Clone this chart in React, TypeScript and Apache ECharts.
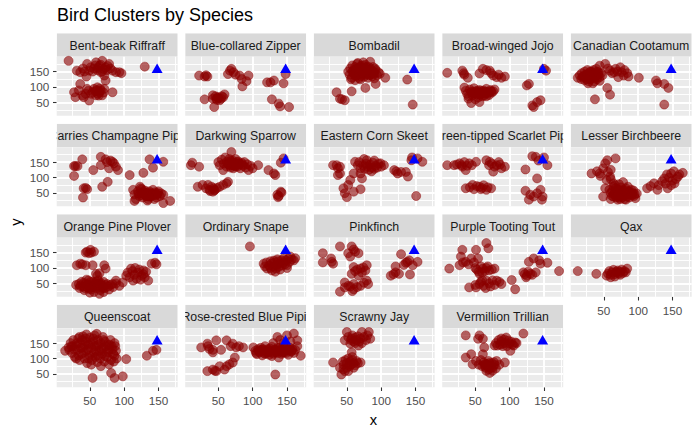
import React, { useEffect, useRef } from "react";
import * as echarts from "echarts";

const FONT = "'Liberation Sans', Arial, sans-serif";

const speciesNames = [
  "Bent-beak Riffraff", "Blue-collared Zipper", "Bombadil", "Broad-winged Jojo", "Canadian Cootamum",
  "Carries Champagne Pipit", "Darkwing Sparrow", "Eastern Corn Skeet", "Green-tipped Scarlet Pipit", "Lesser Birchbeere",
  "Orange Pine Plover", "Ordinary Snape", "Pinkfinch", "Purple Tooting Tout", "Qax",
  "Queenscoat", "Rose-crested Blue Pipit", "Scrawny Jay", "Vermillion Trillian",
];

const bentBeakRiffraff = [
  [19,185],[31,153],[36,148],[46,175],[49,153],[45,134],[51,164],[59,180],[64,169],[68,185],[73,164],[78,175],[66,148],[71,137],[73,121],[83,153],[88,148],[93,148],[96,145],[56,160],[61,155],[66,172],[70,158],[75,155],[62,162],[68,150],[58,170],[76,168],[80,160],[54,150],[42,150],[40,160],
  [27,83],[34,89],[36,110],[39,73],[44,78],[46,94],[49,56],[54,83],[56,94],[59,73],[61,99],[64,83],[66,89],[68,73],[71,94],[83,83],[29,67],[41,67],[58,86],[62,78],[65,95],[60,90],[52,78],[48,88],[70,82],[63,72],
  [130,166],
];
const blueCollaredZipper = [
  [22,137],[30,134],[34,134],[32,138],[67,153],[64,142],[69,159],[81,137],[84,126],[94,137],[91,119],[85,102],[72,148],[75,140],
  [30,60],[42,73],[47,62],[52,57],[44,35],[59,76],[57,67],[49,67],[42,62],[46,70],[50,64],[54,62],[48,58],[55,70],
  [121,115],[126,115],[131,121],[145,112],[148,142],[128,60],[138,46],[140,37],[153,35],
];
const bombadil = [
  [52,150],[54,140],[55,160],[57,130],[58,170],[60,145],[60,155],[62,165],[63,135],[64,150],[65,175],[66,142],[67,160],[68,128],[69,150],[70,168],[71,140],[72,155],[73,145],[74,162],[75,133],[76,150],[77,172],[78,140],[79,158],[80,148],[81,130],[82,165],[83,152],[84,140],[85,158],[86,145],[87,135],[88,165],[89,150],[90,142],[92,155],[94,138],[96,148],[98,143],[56,125],[62,122],[70,125],[66,178],[74,180],[84,182],[90,128],
  [58,150],[61,140],[64,158],[67,148],[70,135],[73,170],[76,158],[79,145],[82,138],[85,150],[88,145],[91,160],[68,162],[78,165],[72,148],[80,155],
  [106,130],[92,110],[77,97],[57,86],[35,83],[40,62],[47,57],[43,60],[138,124],[146,43],
];
const broadWingedJojo = [
  [9,146],[31,153],[34,140],[39,130],[33,145],[56,144],[61,159],[66,155],[71,153],[76,137],[81,132],[88,130],[93,134],[73,145],[84,140],
  [34,98],[36,88],[38,78],[40,70],[42,92],[44,82],[46,72],[48,96],[50,86],[52,76],[54,66],[56,90],[58,80],[60,70],[62,88],[64,78],[66,94],[68,84],[70,74],[72,90],[74,82],[76,86],[78,92],[44,48],[56,51],[40,62],[50,60],[66,70],
  [45,85],[49,80],[53,88],[57,75],[61,80],[65,85],[69,80],[73,86],[47,78],[59,88],[63,72],[55,82],
  [128,110],[125,105],[133,40],[140,51],[145,57],[135,35],[153,153],[150,159],
];
const canadianCootamum = [
  [12,130],[15,138],[17,126],[18,145],[20,135],[22,150],[22,122],[24,140],[25,130],[26,155],[28,118],[28,145],[30,135],[31,125],[32,150],[33,140],[34,130],[35,155],[36,118],[37,145],[38,135],[40,125],[40,150],[42,140],[44,132],[46,145],[48,138],[27,112],[34,112],[44,120],
  [19,132],[23,135],[26,140],[29,128],[31,145],[35,138],[39,130],[42,148],[30,150],[25,125],
  [44,169],[52,175],[59,153],[67,159],[74,164],[76,148],[79,137],[86,134],[71,132],[65,148],[101,130],[55,97],[59,75],[37,60],[126,121],[128,112],[138,110],[144,97],[138,43],[39,159],[56,160],[62,145],[70,150],[80,155],[84,145],
];
const carriesChampagnePipit = [
  [27,137],[32,137],[29,137],[27,105],[39,159],[41,65],[46,62],[44,66],[40,35],[55,124],[66,167],[66,140],[73,159],[78,130],[83,151],[88,135],[91,124],[85,146],[80,155],[75,150],[68,70],[76,86],[108,108],[128,115],[142,132],[137,159],[157,151],
  [113,60],[115,45],[117,30],[120,55],[122,40],[124,65],[125,50],[127,35],[129,45],[130,58],[132,40],[133,50],[135,30],[136,45],[137,55],[139,38],[140,48],[142,60],[143,42],[145,52],[147,35],[148,46],[150,55],[152,40],[154,48],[157,44],[134,25],[126,62],[144,30],
  [121,48],[126,42],[131,52],[134,40],[138,50],[141,45],[146,42],[149,50],[128,52],[136,38],
  [167,24],[157,17],[115,24],[123,70],
];
const darkwingSparrow = [
  [10,140],[12,148],[22,135],
  [50,150],[52,140],[55,158],[57,124],[58,145],[60,165],[62,135],[63,152],[65,142],[66,160],[68,132],[69,150],[70,140],[71,155],[72,130],[73,147],[74,138],[75,160],[76,145],[78,135],[79,152],[80,142],[82,130],[84,148],[86,138],[88,150],[90,132],[92,143],[94,124],[97,138],[100,130],[69,183],
  [64,145],[67,138],[70,148],[73,140],[77,150],[81,145],[85,142],[68,155],[75,135],
  [108,140],[123,124],[131,113],[133,108],[141,148],[145,162],
  [20,70],[27,76],[32,65],[37,60],[42,54],[40,70],[52,70],[57,76],[62,81],[64,86],[43,65],[35,76],[45,60],[48,66],[38,56],[44,58],
  [136,44],[141,54],[142,51],[137,36],[138,40],
];
const easternCornSkeet = [
  [30,140],[35,140],[40,135],[37,130],[40,113],[37,108],
  [62,151],[79,156],[99,146],[60,113],[70,113],[72,97],[70,130],[74,140],[76,128],[78,145],[80,135],[82,125],[84,142],[86,132],[88,148],[90,128],[92,138],[94,132],[96,145],[100,135],[66,140],[68,150],[86,120],[104,140],[75,160],[90,155],
  [55,92],[52,76],[45,65],[47,49],[50,36],[60,54],[70,62],
  [119,124],[124,113],[129,118],[136,118],[139,103],[144,156],[153,162],[160,151],[151,40],[145,165],[122,120],
];
const greenTippedScarletPipit = [
  [9,140],[27,146],[31,135],[41,146],[51,151],[19,140],[36,124],[23,142],[34,150],[45,140],[30,140],[38,138],
  [71,151],[81,140],[88,130],[76,119],[66,156],[93,135],[74,145],[84,150],[78,135],[70,140],[86,142],
  [56,70],[36,65],[46,76],[66,60],[73,65],[52,72],[60,66],[62,75],[48,62],[42,68],[58,62],[68,68],
  [138,167],[133,169],[155,140],[123,126],[140,97],[123,57],[130,44],[128,28],[140,49],[147,28],[145,60],[135,38],[142,155],[150,165],[148,38],
];
const lesserBirchbeere = [
  [32,113],[44,113],[52,146],[55,156],[67,162],[49,130],[59,103],[64,81],[52,65],[49,38],[40,120],[56,118],[60,125],[45,105],[54,92],[60,95],
  [58,60],[60,50],[62,40],[64,70],[66,55],[68,45],[70,62],[72,35],[74,52],[75,68],[76,42],[78,58],[80,48],[82,65],[84,38],[86,55],[88,45],[90,60],[92,50],[94,40],[96,33],[98,48],[70,28],[80,30],[66,75],[85,70],[60,30],[72,78],[78,85],
  [62,55],[65,45],[67,65],[69,50],[71,40],[73,58],[75,48],[77,36],[79,52],[81,42],[83,58],[85,48],[87,35],[89,52],[91,42],[93,58],[95,46],[74,30],[82,28],[64,38],[68,35],
  [113,65],[123,81],[138,97],[148,113],[158,103],[165,115],[143,65],[153,81],[130,75],[135,88],[140,80],[145,100],[150,90],[155,95],[160,110],[142,110],[152,120],[118,72],[128,60],[148,75],
];
const orangePinePlover = [
  [46,153],[51,159],[49,148],[56,153],[44,150],[52,150],
  [31,109],[36,114],[44,109],[54,109],[71,109],[73,98],[64,83],[61,75],[59,81],[39,112],
  [30,45],[34,48],[35,35],[38,55],[40,40],[42,28],[44,50],[46,38],[48,60],[50,45],[52,30],[54,55],[55,40],[56,22],[58,50],[60,35],[62,60],[63,45],[65,28],[66,52],[68,40],[70,55],[72,35],[75,48],[78,30],[80,45],[84,38],[88,50],[64,16],[50,20],[45,62],[70,22],
  [36,42],[41,52],[47,45],[51,55],[53,38],[57,45],[59,55],[61,42],[64,50],[67,45],[69,35],[73,45],[77,40],[43,35],[49,33],
  [88,59],[93,42],[98,53],[83,48],
  [103,75],[110,98],[128,92],[135,59],[113,59],[105,85],[108,70],[112,90],[115,78],[118,65],[120,85],[122,95],[125,75],[128,80],[130,70],[132,88],[116,100],[124,62],
  [140,114],[145,117],[147,112],
];
const ordinarySnape = [
  [96,170],
  [116,114],[118,105],[121,98],[124,108],[126,100],[128,92],[128,115],[130,105],[132,118],[134,98],[135,110],[137,122],[138,104],[140,115],[142,125],[143,108],[145,118],[145,131],[147,112],[148,125],[150,109],[152,130],[154,120],[155,137],[157,128],[160,125],[120,118],[126,122],[133,88],[140,95],[150,100],[162,132],[136,128],[131,124],
];
const pinkfinch = [
  [15,148],[15,118],[27,131],[30,114],[40,170],[52,148],[57,170],[62,153],[67,148],[55,137],[60,160],[28,120],
  [60,103],[70,98],[77,92],[57,81],[67,75],[79,109],[65,95],[72,85],[62,90],[74,102],
  [40,23],[47,37],[52,42],[60,48],[70,42],[79,59],[81,48],[47,53],[60,31],[55,40],[65,38],[75,52],[58,25],
  [114,75],[121,86],[126,81],[121,105],[129,145],[136,117],[141,125],[146,109],[153,120],[142,79],[118,80],[133,110],[138,120],
];
const purpleTootingTout = [
  [12,98],[31,159],[29,137],[27,109],[36,120],[44,131],[51,159],[54,131],[66,181],[69,164],[40,112],[48,118],[32,118],
  [61,98],[56,81],[78,98],[52,95],[58,105],[64,90],[66,100],[70,92],[55,88],[60,85],[68,105],[74,95],[50,100],
  [56,48],[66,59],[81,59],[88,48],[103,61],[108,31],[41,37],[51,37],[58,55],[62,42],[70,50],[75,60],[78,45],[85,55],[50,45],[60,60],[65,35],[72,40],
  [120,86],[125,75],[130,81],[138,86],[128,120],[135,131],[143,125],[145,114],[155,117],[172,90],[122,80],[127,88],[133,78],[124,70],
];
const qax = [
  [12,90],[39,81],[54,75],[84,98],[69,86],[56,82],[58,90],[60,78],[62,86],[64,94],[66,80],[68,88],[70,92],[72,82],[74,88],[76,95],[78,84],[80,90],[82,86],[60,70],[66,72],[74,78],
];
const queenscoat = [
  [14,125],[19,136],[22,150],[24,118],[26,160],[28,105],[30,140],[32,128],[33,165],[35,95],[36,150],[38,115],[40,172],[40,135],[42,100],[44,155],[45,125],[46,85],[48,145],[49,110],[50,168],[52,135],[53,95],[55,155],[56,120],[57,175],[58,105],[60,140],[61,88],[62,160],[64,125],[65,100],[66,150],[68,115],[69,170],[70,135],[71,90],[72,155],[74,120],[75,105],[76,145],[78,130],[80,160],[81,95],[82,140],[84,115],[86,150],[88,125],[66,75],[52,80],[30,100],[25,140],[45,178],[60,180],
  [20,128],[23,140],[27,130],[31,150],[34,110],[37,135],[39,160],[41,120],[43,145],[47,130],[51,150],[54,110],[57,140],[59,125],[63,145],[67,130],[70,160],[73,140],[77,120],[79,145],[83,130],[87,140],[35,170],[55,165],[48,100],[62,110],[72,108],[44,165],
  [54,37],[81,53],[86,37],[98,42],[103,98],[86,109],[78,81],[133,109],[142,125],[147,128],[89,100],[85,90],
];
const roseCrestedBluePipit = [
  [25,136],[34,148],[37,131],[42,120],[47,159],[42,128],[62,159],[54,128],[71,148],[76,136],[86,136],[74,103],[71,87],[66,81],[52,75],[62,75],[34,59],[42,64],[47,59],[59,64],[80,140],[68,140],[35,140],[45,60],
  [101,136],[106,114],[104,125],[108,130],[110,120],[112,135],[114,110],[116,125],[118,140],[120,118],[122,130],[124,112],[126,125],[128,138],[130,115],[132,128],[134,120],[136,135],[138,103],[140,125],[142,115],[144,132],[146,120],[148,140],[150,125],[152,112],[154,135],[156,122],[158,130],[160,118],[162,128],[165,140],[170,109],[136,170],[150,175],[160,181],[165,159],[140,160],[145,150],[155,155],[130,150],[133,48],[118,115],[128,108],
  [105,118],[109,124],[113,128],[117,118],[121,124],[125,132],[129,120],[133,125],[137,118],[141,130],[145,125],[149,118],[153,128],[157,125],[123,120],[139,135],[147,132],[135,128],[115,130],[143,120],
];
const scrawnyJay = [
  [50,186],[72,186],[82,186],[47,159],[84,164],[67,142],[55,148],[52,170],[56,160],[58,175],[60,155],[62,168],[64,160],[66,172],[68,155],[70,165],[72,150],[75,170],[78,160],[80,175],[62,150],[57,165],
  [30,87],[40,70],[42,48],[47,59],[57,120],[70,87],[52,59],[45,80],[48,95],[50,85],[52,100],[54,75],[55,90],[56,80],[58,95],[60,85],[62,78],[64,92],[66,85],[50,70],[45,65],[58,105],[60,70],[44,90],
];
const vermillionTrillian = [
  [36,175],[56,175],[61,164],[54,164],[120,181],[101,125],[78,142],[110,150],[106,142],[63,136],[61,114],[44,114],[36,103],
  [80,150],[84,160],[86,145],[88,155],[90,148],[92,162],[94,150],[96,140],[98,158],[100,148],[102,155],[104,145],[108,152],[90,140],[82,142],[95,168],[88,165],
  [46,81],[51,92],[81,92],[93,87],[71,53],[55,80],[60,75],[62,88],[65,70],[67,82],[69,92],[70,65],[72,78],[74,85],[76,72],[78,80],[80,68],[66,60],[75,60],[58,95],[85,80],[63,78],
  [68,75],[73,70],[77,88],[70,85],[64,82],
];

const speciesPoints = [
  bentBeakRiffraff, blueCollaredZipper, bombadil, broadWingedJojo, canadianCootamum,
  carriesChampagnePipit, darkwingSparrow, easternCornSkeet, greenTippedScarletPipit, lesserBirchbeere,
  orangePinePlover, ordinarySnape, pinkfinch, purpleTootingTout, qax,
  queenscoat, roseCrestedBluePipit, scrawnyJay, vermillionTrillian,
];

const refPoint = [148, 161];
const xTicks = [50, 100, 150];
const yTicks = [50, 100, 150];
const xMinorGrid = [25, 75, 125, 175];
const yMinorGrid = [25, 75, 125, 175];
const xRange = [1.7, 178];
const yRange = [6.5, 198];

const NCOL = 5;
const COL_LEFT0 = 56.7;
const COL_STEP = 128.5;
const PANEL_W = 121;
const ROW_TOP0 = 56.8;
const ROW_STEP = 90.5;
const PANEL_H = 59;
const STRIP_H = 23.6;

export default function App() {
  const ref = useRef<HTMLDivElement>(null);
  useEffect(() => {
    if (!ref.current) return;
    const chart = echarts.init(ref.current, undefined, { renderer: "svg" });
    const n = speciesNames.length;
    const pos = speciesNames.map((_, i) => {
      const c = i % NCOL;
      const r = Math.floor(i / NCOL);
      return { c, r, left: COL_LEFT0 + c * COL_STEP, top: ROW_TOP0 + r * ROW_STEP };
    });
    const isBottom = (i: number) => i + NCOL >= n;

    const grids = pos.map((p) => ({
      left: p.left, top: p.top, width: PANEL_W, height: PANEL_H,
      show: true, backgroundColor: "#EBEBEB", borderWidth: 0, containLabel: false, outerBoundsMode: "none",
    }));
    const labelStyle = { color: "#4D4D4D", fontSize: 11.7, fontFamily: FONT };
    const xAxes = pos.map((p, i) => ({
      gridIndex: i, type: "value", min: xRange[0], max: xRange[1],
      axisLine: { show: false }, splitLine: { show: false },
      axisTick: { show: isBottom(i), customValues: xTicks, length: 3.7, lineStyle: { color: "#333333", width: 1.07 } },
      axisLabel: { show: isBottom(i), customValues: xTicks, margin: 7.5, ...labelStyle },
    }));
    const yAxes = pos.map((p, i) => ({
      gridIndex: i, type: "value", min: yRange[0], max: yRange[1],
      axisLine: { show: false }, splitLine: { show: false },
      axisTick: { show: p.c === 0, customValues: yTicks, length: 3.7, lineStyle: { color: "#333333", width: 1.07 } },
      axisLabel: { show: p.c === 0, customValues: yTicks, margin: 7.4, ...labelStyle },
    }));

    const gridLineData = [
      ...xMinorGrid.map((v) => ({ xAxis: v, lineStyle: { width: 0.95 } })),
      ...yMinorGrid.map((v) => ({ yAxis: v, lineStyle: { width: 0.95 } })),
      ...xTicks.map((v) => ({ xAxis: v, lineStyle: { width: 1.9 } })),
      ...yTicks.map((v) => ({ yAxis: v, lineStyle: { width: 1.9 } })),
    ];

    const series: any[] = [];
    speciesPoints.forEach((pts, i) => {
      series.push({
        type: "scatter", xAxisIndex: i, yAxisIndex: i, data: pts, silent: true, z: 3,
        symbol: "circle", symbolSize: 9,
        itemStyle: { color: "rgba(139,0,0,0.6)", borderColor: "rgba(139,0,0,0.55)", borderWidth: 0.8, opacity: 1 },
      });
      series.push({
        type: "scatter", xAxisIndex: i, yAxisIndex: i, data: [refPoint], silent: true, z: 4,
        symbol: "triangle", symbolSize: [11, 9.5],
        itemStyle: { color: "#0000FF", opacity: 1 },
        markLine: {
          silent: true, z: 1, symbol: ["none", "none"], animation: false,
          label: { show: false }, emphasis: { disabled: true },
          lineStyle: { color: "#FFFFFF", type: "solid" },
          data: gridLineData,
        },
      });
    });

    chart.setOption({
      animation: false,
      title: {
        text: "Bird Clusters by Species", left: 57, top: 6, padding: 0,
        textStyle: { fontSize: 18, fontWeight: "normal", color: "#000000", fontFamily: FONT },
      },
      grid: grids,
      xAxis: xAxes,
      yAxis: yAxes,
      series,
      graphic: [
        {
          type: "text", x: 373.5, y: 420, silent: true,
          style: { text: "x", align: "center", verticalAlign: "middle", fill: "#000000", fontSize: 14.7, fontFamily: FONT },
        },
        {
          type: "text", x: 16, y: 222, rotation: Math.PI / 2, silent: true,
          style: { text: "y", align: "center", verticalAlign: "middle", fill: "#000000", fontSize: 14.7, fontFamily: FONT },
        },
      ],
    });

    const zr = chart.getZr();
    pos.forEach((p, i) => {
      const sx = p.left;
      const sy = p.top - STRIP_H;
      const g = new echarts.graphic.Group();
      g.add(new echarts.graphic.Rect({ shape: { x: sx, y: sy, width: PANEL_W, height: STRIP_H }, style: { fill: "#D9D9D9" }, silent: true }));
      g.add(new echarts.graphic.Text({
        style: {
          text: speciesNames[i], x: sx + PANEL_W / 2, y: sy + STRIP_H / 2 + 0.5,
          align: "center", verticalAlign: "middle", fill: "#1A1A1A", fontSize: 12.3, fontFamily: FONT,
        },
        silent: true,
      }));
      g.setClipPath(new echarts.graphic.Rect({ shape: { x: sx, y: sy, width: PANEL_W, height: STRIP_H } }));
      zr.add(g);
    });

    return () => chart.dispose();
  }, []);
  return <div ref={ref} style={{ position: "absolute", left: 0, top: 0, width: 700, height: 432 }} />;
}
